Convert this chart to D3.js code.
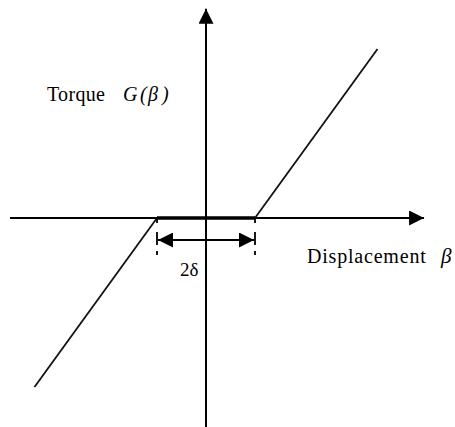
<!DOCTYPE html>
<html>
<head>
<meta charset="utf-8">
<title>Dead-zone torque</title>
<style>
  body { margin: 0; background: #fff; }
  text { font-family: "Liberation Serif", "Times New Roman", serif; fill: #000; }
</style>
</head>
<body>
<div id="container"></div>
<script src="https://cdn.jsdelivr.net/npm/d3@7"></script>
<script>
// characteristic: displacement beta vs torque G(beta), dead zone of width 2*delta
var delta = 1
var beta = [-3.5, -delta, delta, 3.5]
var torque = [-3.45, 0, 0, 3.45]
var xExtent = [-4.0, 4.45]   // horizontal axis (data units)
var yExtent = [-4.4, 4.27]   // vertical axis (data units)

var width = 455, height = 427

var svg = d3.select('#container').append('svg')
  .attr('width', width).attr('height', height)

var x = d3.scaleLinear().domain([-4, 4]).range([10, 402])
var y = d3.scaleLinear().domain([-4, 4]).range([414, 22])

// arrow heads
var defs = svg.append('defs')
defs.append('marker').attr('id', 'ah')
  .attr('viewBox', '0 0 16 16').attr('refX', 16).attr('refY', 8)
  .attr('markerWidth', 16).attr('markerHeight', 15)
  .attr('markerUnits', 'userSpaceOnUse').attr('orient', 'auto-start-reverse')
  .append('path').attr('d', 'M0,0L16,8L0,16Z').attr('fill', '#000')

// axes
svg.append('line')
  .attr('x1', x(xExtent[0])).attr('x2', x(xExtent[1]))
  .attr('y1', y(0)).attr('y2', y(0))
  .attr('stroke', '#000').attr('stroke-width', 2)
  .attr('marker-end', 'url(#ah)')
svg.append('line')
  .attr('x1', x(0)).attr('x2', x(0))
  .attr('y1', y(yExtent[0])).attr('y2', y(yExtent[1]))
  .attr('stroke', '#000').attr('stroke-width', 2)
  .attr('marker-end', 'url(#ah)')

var pts = beta.map(function(b, i) { return [b, torque[i]] })
var line = d3.line().x(function(d) { return x(d[0]) }).y(function(d) { return y(d[1]) })

// sloped branches
svg.append('path').attr('d', line(pts.slice(0, 2)))
  .attr('fill', 'none').attr('stroke', '#111').attr('stroke-width', 1.8)
svg.append('path').attr('d', line(pts.slice(2, 4)))
  .attr('fill', 'none').attr('stroke', '#111').attr('stroke-width', 1.8)
// dead zone (thick)
svg.append('path').attr('d', line(pts.slice(1, 3)))
  .attr('fill', 'none').attr('stroke', '#000').attr('stroke-width', 3.5)

// dashed markers at +-delta
;[-delta, delta].forEach(function(d) {
  svg.append('line')
    .attr('x1', x(d)).attr('x2', x(d))
    .attr('y1', y(0) + 1).attr('y2', y(0) + 37)
    .attr('stroke', '#000').attr('stroke-width', 1.8)
    .attr('stroke-dasharray', '4,9,13,6,4')
})

// 2 delta dimension arrow
svg.append('line')
  .attr('x1', x(-delta) + 1).attr('x2', x(delta) - 1)
  .attr('y1', y(0) + 22).attr('y2', y(0) + 22)
  .attr('stroke', '#000').attr('stroke-width', 1.8)
  .attr('marker-start', 'url(#ah)').attr('marker-end', 'url(#ah)')

svg.append('text').attr('x', 180).attr('y', 276)
  .style('font-size', '19px').text('2δ')

// labels
var t1 = svg.append('text').attr('x', 47).attr('y', 101).style('font-size', '20px')
t1.append('tspan').style('letter-spacing', '0.3px').text('Torque')
t1.append('tspan').attr('x', 123).style('font-style', 'italic').text('G')
t1.append('tspan').attr('x', 140).style('font-style', 'italic').text('(')
t1.append('tspan').attr('x', 148).style('font-style', 'italic').text('β')
t1.append('tspan').attr('x', 162).style('font-style', 'italic').text(')')

var t2 = svg.append('text').attr('x', 307).attr('y', 263).style('font-size', '20px')
t2.append('tspan').style('letter-spacing', '0.8px').text('Displacement')
t2.append('tspan').attr('x', 441).style('font-style', 'italic').style('font-size', '21px').text('β')
</script>
</body>
</html>
